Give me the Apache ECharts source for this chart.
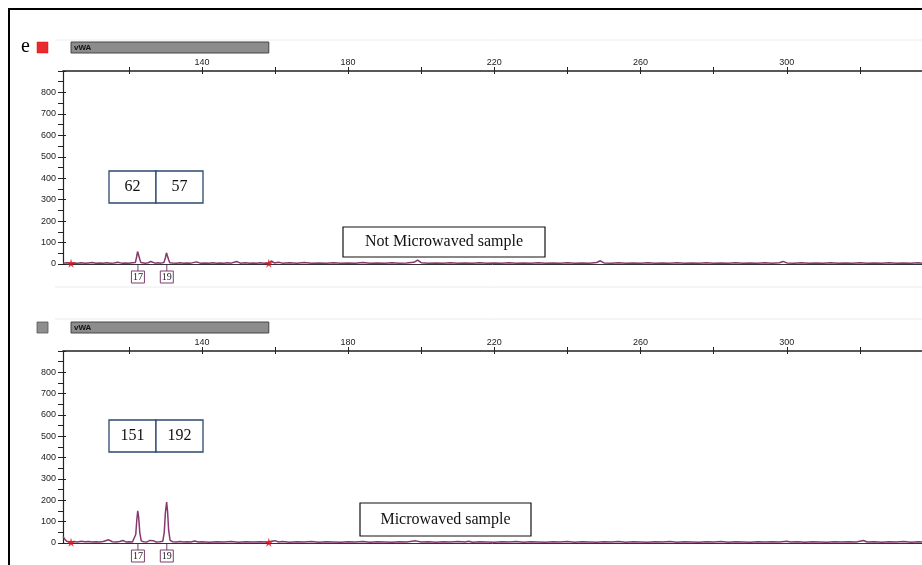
<!DOCTYPE html>
<html>
<head>
<meta charset="utf-8">
<script src="https://cdn.jsdelivr.net/npm/echarts@6.0.0/dist/echarts.min.js"></script>
<style>
html,body{margin:0;padding:0;background:#fff;}
#c{width:922px;height:565px;}
</style>
</head>
<body>
<div id="c"></div>
<script>
// ---- data ----
const xTickValues = [120,140,160,180,200,220,240,260,280,300,320];
const xLabelValues = [140,180,220,260,300];
const yLabelValues = [0,100,200,300,400,500,600,700,800];
const markerName = 'vWA';
const binRange = [104.2, 158.3];
const alleleTop = [{name:'17', bp:122.5}, {name:'19', bp:130.4}];
const alleleBottom = [{name:'17', bp:122.5}, {name:'19', bp:130.4}];
const heightsTop = ['62','57'];
const heightsBottom = ['151','192'];
const titleTop = 'Not Microwaved sample';
const titleBottom = 'Microwaved sample';
const panelLetter = 'e';

const topTrace = [[102,4],[103,6],[104,3],[105,5],[106,4],[107,6],[108,3],[109,5],[110,7],[111,4],[112,5],[113,3],[114,6],[115,4],[116,5],[117,8],[118,4],[119,5],[120,3],[121,6],[121.8,7],[122.1,30],[122.4,58],[122.55,62],[122.75,50],[123.0,22],[123.3,7],[123.8,5],[124.5,4],[125.3,6],[126,12],[126.5,5],[127.2,4],[128,6],[128.8,4],[129.6,7],[130.0,28],[130.3,52],[130.45,57],[130.65,46],[130.9,20],[131.2,6],[132,5],[133,4],[134,6],[135,3],[136,5],[137,4],[138.5,10],[139.5,4],[141,5],[142,3],[143,6],[144,4],[145,5],[146,3],[147,6],[148,4],[149.5,12],[150.5,4],[152,6],[153,4],[154,5],[155,3],[156,6],[157,4],[158.3,3],[159,14],[159.8,5],[161,8],[162,4],[164,6],[166,3],[168,7],[170,4],[172,5],[174,3],[176,6],[178,4],[180,5],[182,3],[184,7],[186,4],[188,5],[190,3],[192,6],[194,4],[196,5],[198,8],[199,18],[200,6],[202,4],[204,5],[206,3],[208,6],[210,4],[212,5],[214,3],[216,6],[218,4],[220,5],[222,3],[224,6],[226,4],[228,5],[230,3],[232,6],[234,4],[236,5],[238,3],[240,6],[242,4],[244,5],[246,3],[248,7],[249,15],[250,5],[252,4],[254,6],[256,3],[258,5],[260,4],[262,6],[264,3],[266,5],[268,4],[270,6],[272,3],[274,5],[276,4],[278,6],[280,3],[282,5],[284,4],[286,6],[288,3],[290,5],[292,4],[294,6],[296,3],[298,6],[299,12],[300,5],[302,4],[304,6],[306,3],[308,5],[310,4],[312,6],[314,3],[316,5],[318,4],[320,6],[322,3],[324,5],[326,4],[328,6],[330,3],[332,5],[334,4],[336,6],[337,4]];

const bottomTrace = [[102,30],[102.5,18],[103,8],[104,5],[105,7],[106,5],[107,8],[108,6],[109,7],[110,5],[111,6],[112,5],[113,7],[114.5,15],[115.5,6],[116.5,5],[117.5,7],[118.4,12],[119.2,5],[120,6],[121,5],[121.5,8],[121.9,40],[122.2,110],[122.45,151],[122.7,120],[123.0,50],[123.4,10],[124,6],[125,5],[125.8,12],[126.3,20],[126.8,10],[127.5,5],[128.5,6],[129.3,8],[129.7,50],[130.0,140],[130.35,192],[130.6,150],[130.9,60],[131.3,12],[132,6],[133,5],[134,7],[135,5],[136,6],[137,5],[138,9],[139,5],[140,6],[142,4],[144,6],[146,5],[148,7],[150,4],[152,6],[154,5],[156,6],[158.3,4],[159,8],[160,11],[161,5],[162,7],[164,4],[166,6],[168,5],[170,7],[172,4],[174,6],[176,5],[178,4],[180,6],[182,5],[184,7],[186,4],[188,6],[190,5],[192,4],[194,6],[196,5],[198.5,10],[200,5],[202,6],[204,4],[206,6],[208,5],[210,7],[212,5],[213,8],[214,4],[216,6],[218,5],[220,4],[222,6],[224,5],[226,7],[228,4],[230,6],[232,5],[234,4],[236,6],[238,5],[240,7],[242,4],[244,6],[246,5],[248,4],[250,6],[252,5],[254,7],[256,4],[258,6],[260,5],[262,4],[264,6],[266,5],[268,7],[270,4],[272,6],[274,5],[276,4],[278,6],[280,5],[282,7],[284,4],[286,6],[288,5],[290,4],[292,6],[294,5],[296,6],[298,5],[300,8],[301,5],[303,6],[305,4],[307,6],[309,5],[311,4],[313,6],[315,5],[317,6],[319,5],[321,12],[322,5],[324,6],[326,4],[328,6],[330,5],[332,7],[334,4],[336,6],[337,5]];

const starsTop = [[104.2,3],[158.3,3]];
const starsBottom = [[104.2,3],[158.3,3]];

// ---- chart ----
const traceColor = '#86396f';
const axisColor = '#222';
const starPath = 'path://M50,0 L61,35 L98,35 L68,57 L79,91 L50,70 L21,91 L32,57 L2,35 L39,35 Z';

const grids = [
  {left:63, top:71, width:859, height:193},
  {left:63, top:351, width:859, height:192}
];

function xAxesFor(g){
  return [
    {gridIndex:g, type:'value', position:'top', min:102, max:337,
      axisLine:{show:true, onZero:false, lineStyle:{color:axisColor, width:1.5}},
      axisTick:{show:true, length:4, customValues:xTickValues, lineStyle:{color:axisColor}},
      axisLabel:{show:true, customValues:xLabelValues, margin:4, fontSize:9, fontFamily:'Liberation Sans, Arial', color:'#222'},
      splitLine:{show:false}},
    {gridIndex:g, type:'value', position:'top', min:102, max:337,
      axisLine:{show:false, onZero:false},
      axisTick:{show:true, inside:true, length:3, customValues:xTickValues, lineStyle:{color:axisColor}},
      axisLabel:{show:false}, splitLine:{show:false}},
    {gridIndex:g, type:'value', position:'bottom', min:102, max:337,
      axisLine:{show:true, onZero:false, lineStyle:{color:'#333', width:1}},
      axisTick:{show:false}, axisLabel:{show:false}, splitLine:{show:false}}
  ];
}
function yAxesFor(g){
  return [
    {gridIndex:g, type:'value', position:'left', min:0, max:900, interval:100,
      axisLine:{show:true, lineStyle:{color:axisColor, width:1.2}},
      axisTick:{show:true, length:5, lineStyle:{color:axisColor}},
      minorTick:{show:true, splitNumber:2, length:5, lineStyle:{color:axisColor}},
      axisLabel:{show:true, margin:7, fontSize:9, fontFamily:'Liberation Sans, Arial', color:'#222',
        formatter:function(v){ return yLabelValues.indexOf(v) >= 0 ? String(v) : ''; }},
      splitLine:{show:false}},
    {gridIndex:g, type:'value', position:'left', min:0, max:900, interval:100,
      axisLine:{show:false},
      axisTick:{show:true, inside:true, length:3, lineStyle:{color:axisColor}},
      minorTick:{show:false},
      axisLabel:{show:false}, splitLine:{show:false}}
  ];
}

const option = {
  animation:false,
  backgroundColor:'#fff',
  grid:grids,
  xAxis:[].concat(xAxesFor(0), xAxesFor(1)),
  yAxis:[].concat(yAxesFor(0), yAxesFor(1)),
  series:[
    {type:'line', xAxisIndex:0, yAxisIndex:0, data:topTrace, showSymbol:false, symbol:'none',
      lineStyle:{color:traceColor, width:1.5}, z:3},
    {type:'line', xAxisIndex:3, yAxisIndex:2, data:bottomTrace, showSymbol:false, symbol:'none',
      lineStyle:{color:traceColor, width:1.5}, z:3},
    {type:'scatter', xAxisIndex:0, yAxisIndex:0, data:starsTop, symbol:starPath, symbolSize:9,
      itemStyle:{color:'#e0141c'}, z:4},
    {type:'scatter', xAxisIndex:3, yAxisIndex:2, data:starsBottom, symbol:starPath, symbolSize:9,
      itemStyle:{color:'#e0141c'}, z:4}
  ]
};

const chart = echarts.init(document.getElementById('c'), null, {renderer:'canvas'});
chart.setOption(option);

// ---- decorations computed through the axes ----
function px(xIdx, v){ return chart.convertToPixel({xAxisIndex:xIdx}, v); }
function py(yIdx, v){ return chart.convertToPixel({yAxisIndex:yIdx}, v); }

const g = [];
// outer frame
g.push({type:'line', shape:{x1:9, y1:9, x2:9, y2:565}, style:{stroke:'#000', lineWidth:2}, z:10});
g.push({type:'line', shape:{x1:8, y1:9, x2:922, y2:9}, style:{stroke:'#000', lineWidth:2}, z:10});
// faint separators
[40, 287, 319].forEach(function(y){
  g.push({type:'line', shape:{x1:55, y1:y, x2:922, y2:y}, style:{stroke:'#ececec', lineWidth:1}, z:1});
});
// panel letter + dye squares
g.push({type:'text', x:21, y:47, style:{text:panelLetter, font:'20px "Liberation Serif", "Times New Roman", serif', fill:'#000', textVerticalAlign:'middle'}, z:10});
g.push({type:'rect', shape:{x:37, y:42, width:11, height:11}, style:{fill:'#ec2a2e', stroke:'#c01818', lineWidth:0.5}, z:10});
g.push({type:'rect', shape:{x:37, y:322, width:11, height:11}, style:{fill:'#8e8e8e', stroke:'#555', lineWidth:0.8}, z:10});

function markerBar(xIdx, y){
  const x1 = px(xIdx, binRange[0]), x2 = px(xIdx, binRange[1]);
  g.push({type:'rect', shape:{x:x1, y:y, width:x2-x1, height:11}, style:{fill:'#8c8c8c', stroke:'#444', lineWidth:1}, z:10});
  g.push({type:'text', x:x1+3, y:y+5.5, style:{text:markerName, font:'bold 8px "Liberation Sans", Arial', fill:'#111', textVerticalAlign:'middle'}, z:11});
}
markerBar(0, 42);
markerBar(3, 322);

function alleleBoxes(list, xIdx, yIdx){
  const base = py(yIdx, 0);
  list.forEach(function(a){
    const x = px(xIdx, a.bp);
    g.push({type:'line', shape:{x1:x, y1:base+1, x2:x, y2:base+7}, style:{stroke:'#7b3f6e', lineWidth:1}, z:10});
    g.push({type:'rect', shape:{x:x-6.5, y:base+7, width:13, height:12}, style:{fill:'#fff', stroke:'#7b3f6e', lineWidth:1}, z:10});
    g.push({type:'text', x:x, y:base+13.5, style:{text:a.name, font:'10px "Liberation Serif", "Times New Roman", serif', fill:'#222', textAlign:'center', textVerticalAlign:'middle'}, z:11});
  });
}
alleleBoxes(alleleTop, 0, 0);
alleleBoxes(alleleBottom, 3, 2);

function heightBoxes(vals, y){
  const xs = [109, 156];
  vals.forEach(function(v, i){
    g.push({type:'rect', shape:{x:xs[i], y:y, width:47, height:32}, style:{fill:'#fff', stroke:'#2c4870', lineWidth:1.3}, z:10});
    g.push({type:'text', x:xs[i]+23.5, y:y+16, style:{text:v, font:'16px "Liberation Serif", "Times New Roman", serif', fill:'#111', textAlign:'center', textVerticalAlign:'middle'}, z:11});
  });
}
heightBoxes(heightsTop, 171);
heightBoxes(heightsBottom, 420);

function titleBox(t, x, y, w, h){
  g.push({type:'rect', shape:{x:x, y:y, width:w, height:h}, style:{fill:'#fff', stroke:'#111', lineWidth:1.2}, z:10});
  g.push({type:'text', x:x+w/2, y:y+h/2, style:{text:t, font:'16px "Liberation Serif", "Times New Roman", serif', fill:'#111', textAlign:'center', textVerticalAlign:'middle'}, z:11});
}
titleBox(titleTop, 343, 227, 202, 30);
titleBox(titleBottom, 360, 503, 171, 33);

chart.setOption({graphic:g});
</script>
</body>
</html>
